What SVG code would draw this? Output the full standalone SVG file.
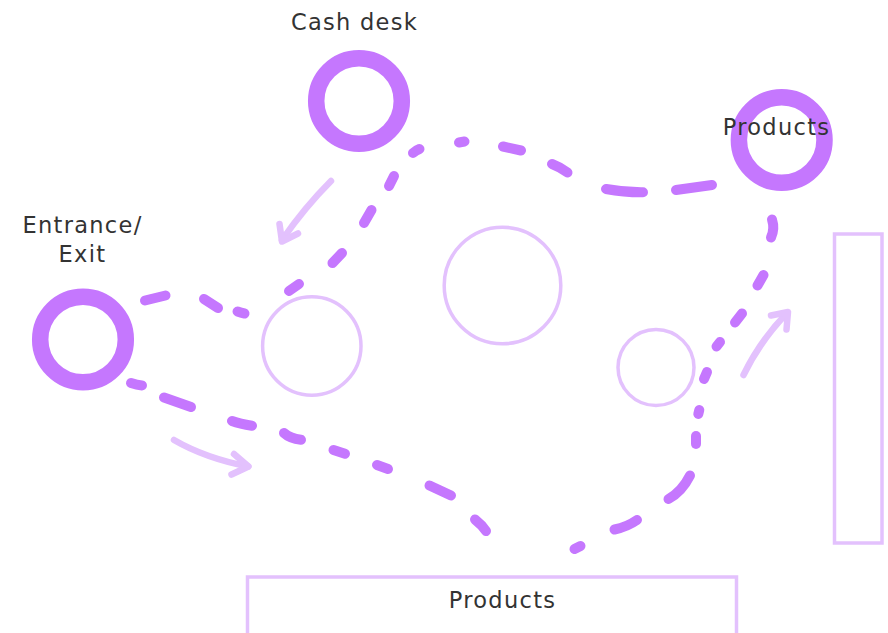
<svg xmlns="http://www.w3.org/2000/svg" width="888" height="633" viewBox="0 0 888 633">
<style>
.ring{fill:none;stroke:#C577FE;stroke-width:16.5}
.shelf{fill:none;stroke:#E3C1FD;stroke-width:3.5}
.dash{fill:none;stroke:#C577FE;stroke-width:10;stroke-linecap:round}
.arr{fill:none;stroke:#E3C1FD;stroke-width:6.5;stroke-linecap:round;stroke-linejoin:round}
.lbl{font-family:"DejaVu Sans","Liberation Sans",sans-serif;font-size:22.5px;letter-spacing:1.3px;fill:#333333}
</style>
<rect width="888" height="633" fill="#ffffff"/>
<g id="shelves">
<circle id="shelf1" class="shelf" cx="311.8" cy="346" r="49.2"/>
<circle id="shelf2" class="shelf" cx="502.5" cy="285.5" r="58.3"/>
<circle id="shelf3" class="shelf" cx="656" cy="367.5" r="38"/>
<rect id="shelf-right" class="shelf" x="834.5" y="234" width="47.5" height="309"/>
<rect id="shelf-bottom" class="shelf" x="247.5" y="577" width="489" height="70"/>
</g>
<g id="connectors">
<path class="dash" d="M145,300.5 L165.5,295.5"/>
<path class="dash" d="M204,299 L218,308"/>
<path class="dash" d="M237.5,311.5 Q241,312.8 244.5,313.5"/>
<path class="dash" d="M289,291 L299,284"/>
<path class="dash" d="M332.5,263 L342,253"/>
<path class="dash" d="M364,223 L371.5,210"/>
<path class="dash" d="M389,186 L394,176"/>
<path class="dash" d="M413,153 Q415.5,150.5 419.5,149"/>
<path class="dash" d="M459,142.5 L464.5,141.5"/>
<path class="dash" d="M503,146.5 L521,150.5"/>
<path class="dash" d="M552,164 Q560,167 567.5,172.5"/>
<path class="dash" d="M606,189 Q625,192.5 643,192.3"/>
<path class="dash" d="M676,190 L712,185"/>
<path class="dash" d="M772,219.5 Q775,229 771,237.5"/>
<path class="dash" d="M763.5,275 L757.5,285.5"/>
<path class="dash" d="M742,313.5 L735,322.5"/>
<path class="dash" d="M720,342 L716.5,346.5"/>
<path class="dash" d="M707,372 L704,379"/>
<path class="dash" d="M699.3,410 L698.3,414"/>
<path class="dash" d="M696,436 L696,444"/>
<path class="dash" d="M690,475.5 Q682,491.5 668.5,499"/>
<path class="dash" d="M637,520 Q627,527 614.5,529.5"/>
<path class="dash" d="M580.5,546 L574.5,549"/>
<path class="dash" d="M131,383 Q137,385 142,385.5"/>
<path class="dash" d="M164,397.5 L191,407"/>
<path class="dash" d="M232,421 Q240,424 252,425.8"/>
<path class="dash" d="M284,433 Q290,438.5 301,439.8"/>
<path class="dash" d="M333.5,450 L345,453.8"/>
<path class="dash" d="M377,465 L388,469"/>
<path class="dash" d="M429.5,485.5 L451,495.5"/>
<path class="dash" d="M475,519.5 Q482,525 486,531"/>
<path class="arr" d="M331,181 Q305,207 282,240"/>
<path class="arr" d="M279.5,224 L282,241.5 L298,233.5"/>
<path class="arr" d="M174,440 Q205,458 248,466.5"/>
<path class="arr" d="M234,454 L248.5,466.5 L231.5,474.5"/>
<path class="arr" d="M743.5,375 Q760,341 787,313"/>
<path class="arr" d="M771,315.5 L788,312 L786.5,329.5"/>
</g>
<g id="entrance">
<circle class="ring" cx="83" cy="339.5" r="42.8"/>
<text class="lbl" x="82.5" y="233" text-anchor="middle">Entrance/</text>
<text class="lbl" x="82.5" y="262" text-anchor="middle">Exit</text>
</g>
<g id="cash-desk">
<circle class="ring" cx="359" cy="101" r="42.8"/>
<text class="lbl" x="354.5" y="30" text-anchor="middle">Cash desk</text>
</g>
<g id="products-top">
<circle class="ring" cx="781.7" cy="140" r="42.8"/>
<text class="lbl" x="776.5" y="135" text-anchor="middle">Products</text>
</g>
<g id="products-bottom">
<text class="lbl" x="502.5" y="608" text-anchor="middle">Products</text>
</g>
</svg>
